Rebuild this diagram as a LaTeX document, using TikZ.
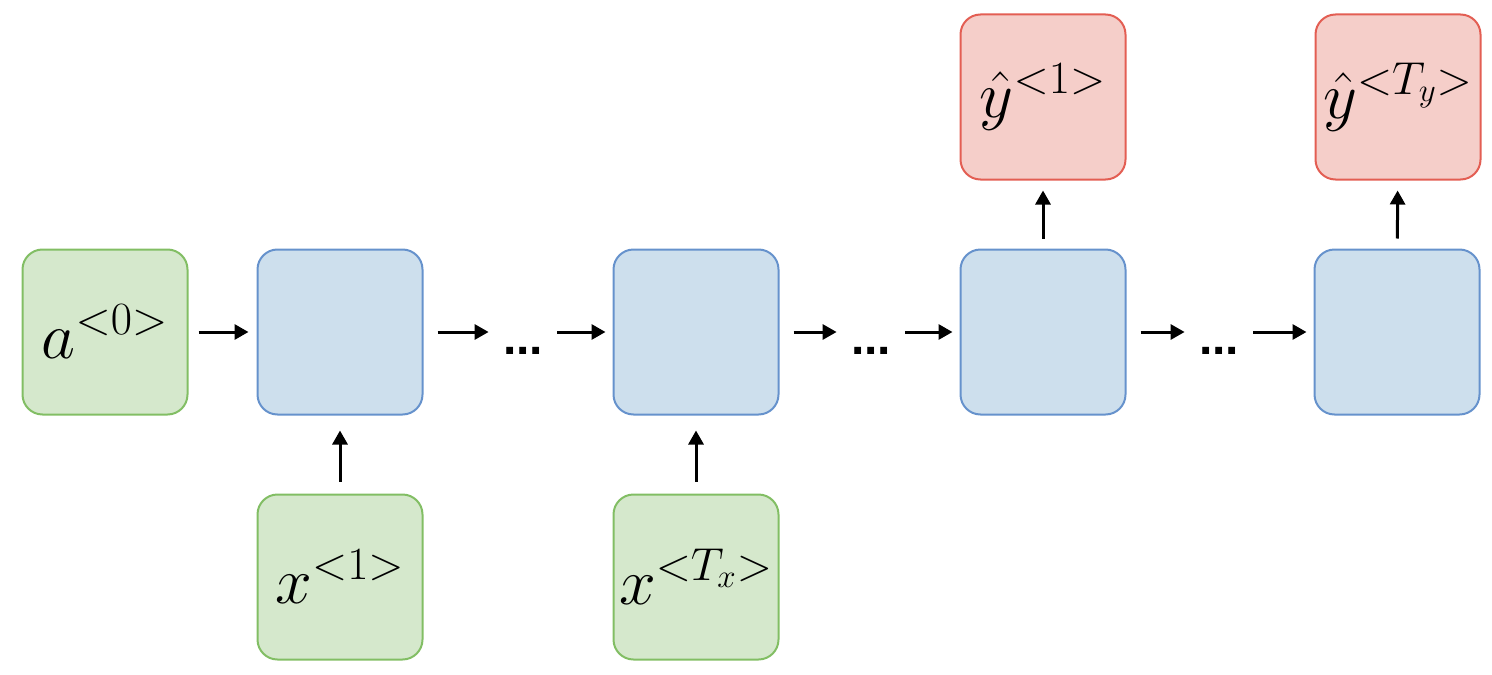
\RequirePackage{fix-cm}
\documentclass[tikz,border=0pt]{standalone}
\usepackage{fontspec}
\usetikzlibrary{arrows.meta,positioning}
\newfontfamily\dotsfont{Liberation Sans}
\definecolor{greenfill}{RGB}{213,232,204}
\definecolor{greenline}{RGB}{130,190,100}
\definecolor{bluefill}{RGB}{205,223,237}
\definecolor{blueline}{RGB}{102,146,204}
\definecolor{redfill}{RGB}{245,206,201}
\definecolor{redline}{RGB}{227,94,83}

\begin{document}
\begin{tikzpicture}[x=0.5pt,y=-0.5pt,
    cell/.style={draw=blueline, fill=bluefill, line width=1pt, rounded corners=10pt, minimum size=82.5pt, inner sep=0pt},
    inbox/.style={cell, draw=greenline, fill=greenfill},
    outbox/.style={cell, draw=redline, fill=redfill},
    dotsnode/.style={inner sep=0pt, font=\dotsfont\bfseries\fontsize{24}{28}\selectfont},
    arr/.style={-{Triangle[length=7pt,width=7.5pt]}, line width=1.5pt},
    font=\fontsize{33}{40}\selectfont]
    \useasboundingbox (0,0) rectangle (1492,674);

    % Recurrent cells
    \node[inbox] (a0) at (105,332) {$a^{<0>}$};
    \node[cell] (c1) at (340,332) {};
    \node[cell] (c2) at (696,332) {};
    \node[cell] (c3) at (1043,332) {};
    \node[cell] (c4) at (1397,332) {};

    % Inputs and outputs
    \node[inbox] (x1) at (340,577) {$x^{<1>}$};
    \node[inbox] (xT) at (696,577) {$x^{<T_x>}$};
    \node[outbox] (y1) at (1043,97) {$\hat{y}^{<1>}$};
    \node[outbox] (yT) at (1398,97) {$\hat{y}^{<T_y>}$};

    % Gaps in the chain
    \node[dotsnode] (d1) at (523,351) {...};
    \node[dotsnode] (d2) at (871,351) {...};
    \node[dotsnode] (d3) at (1219,351) {...};

    % Horizontal arrows
    \draw[arr, shorten <=5pt, shorten >=4pt] (a0) -- (c1);
    \foreach \from/\gap/\to in {c1/d1/c2, c2/d2/c3, c3/d3/c4} {
        \draw[arr, shorten <=7pt, shorten >=7pt] (\from.east) -- (\gap.west |- \from.east);
        \draw[arr, shorten <=7pt, shorten >=3.5pt] (\gap.east |- \to.west) -- (\to.west);
    }

    % Vertical arrows
    \draw[arr, shorten <=6pt, shorten >=7.5pt] (x1) -- (c1);
    \draw[arr, shorten <=6pt, shorten >=7.5pt] (xT) -- (c2);
    \draw[arr, shorten <=5pt, shorten >=5pt] (c3) -- (y1);
    \draw[arr, shorten <=5pt, shorten >=5pt] (c4) -- (yT);
\end{tikzpicture}
\end{document}
